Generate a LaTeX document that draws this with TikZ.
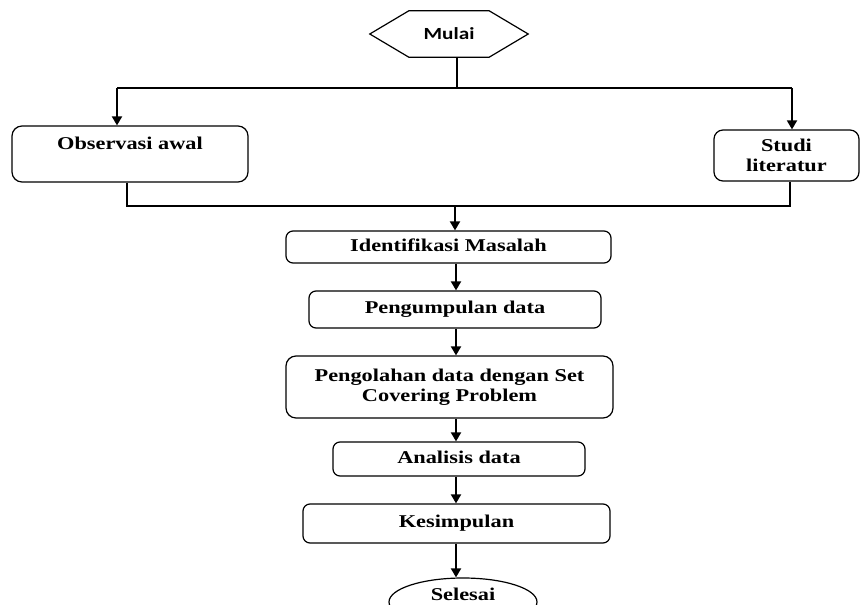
\documentclass[tikz,border=0pt]{standalone}
\usepackage{fontspec}
\setmainfont{Liberation Serif}
\newfontfamily\boxfont{Liberation Serif}[FakeStretch=1.24]
\newfontfamily\mulaifont{Carlito}[FakeStretch=1.25]
\usetikzlibrary{arrows.meta,shapes.geometric,calc}
\tikzset{
  boxbase/.style={draw, rounded corners=7pt, line width=1.2pt, inner sep=0pt, align=center,
    font=\boxfont\bfseries\fontsize{18}{19.5}\selectfont},
  box/.style={boxbase, text height=12pt, text depth=4pt},
  arr/.style={line width=1.8pt, -{Triangle[width=10pt,length=9pt]}},
  ln/.style={line width=1.5pt}
}
\begin{document}
\begin{tikzpicture}[x=1pt,y=-1pt]
\useasboundingbox (0,0) rectangle (860,605);
% start
\node[font=\mulaifont\bfseries\fontsize{17}{20}\selectfont, minimum width=80pt, minimum height=46pt, inner sep=0pt] (mulai) at (449,34) {Mulai};
\draw[line width=1.2pt] (mulai.north west) -- (mulai.north east) -- ([xshift=39pt]mulai.east)
  -- (mulai.south east) -- (mulai.south west) -- ([xshift=-39pt]mulai.west) -- cycle;
% boxes
\node[box, minimum width=236pt, minimum height=56pt, rounded corners=10pt, text height=23pt, text depth=33pt] (obs) at (130,154) {Observasi awal};
\node[boxbase, minimum width=145pt, minimum height=51pt, rounded corners=9pt] (studi) at (786.5,155.5) {Studi\\literatur};
\node[box, minimum width=325pt, minimum height=32pt] (ident) at (448.5,247) {Identifikasi Masalah};
\node[box, minimum width=292pt, minimum height=37pt] (pengum) at (455,309.5) {Pengumpulan data};
\node[boxbase, minimum width=327pt, minimum height=62pt, rounded corners=10pt] (pengol) at (449.5,387) {Pengolahan data dengan Set\\Covering Problem};
\node[box, minimum width=252pt, minimum height=34pt] (anal) at (459,459) {Analisis data};
\node[box, minimum width=307pt, minimum height=39pt] (kes) at (456.5,523.5) {Kesimpulan};
\node[ellipse, draw, line width=1.2pt, minimum width=148pt, minimum height=48pt, inner sep=0pt,
  font=\boxfont\bfseries\fontsize{18}{19.5}\selectfont, text height=11pt, text depth=15pt] (sel) at (463,602) {Selesai};
% top split
\coordinate (hl) at (117,88);
\coordinate (hr) at (792,88);
\coordinate (hm) at (457,88);
\draw[ln] (mulai.south -| hm) -- (hm);
\draw[ln] (hl) -- (hr);
\draw[arr] (hl) -- (hl |- obs.north);
\draw[arr] (hr) -- (hr |- studi.north);
% merge
\coordinate (bl) at (127,206);
\coordinate (br) at (790,206);
\coordinate (bm) at (455,206);
\draw[ln] (obs.south -| bl) -- (bl) -- (br) -- (studi.south -| br);
\draw[arr] (bm) -- (bm |- ident.north);
% main column
\coordinate (c) at (456,0);
\draw[arr] (ident.south -| c) -- (pengum.north -| c);
\draw[arr] (pengum.south -| c) -- (pengol.north -| c);
\draw[arr] (pengol.south -| c) -- (anal.north -| c);
\draw[arr] (anal.south -| c) -- (kes.north -| c);
\draw[arr] (kes.south -| c) -- (sel.north -| c);
\end{tikzpicture}
\end{document}
